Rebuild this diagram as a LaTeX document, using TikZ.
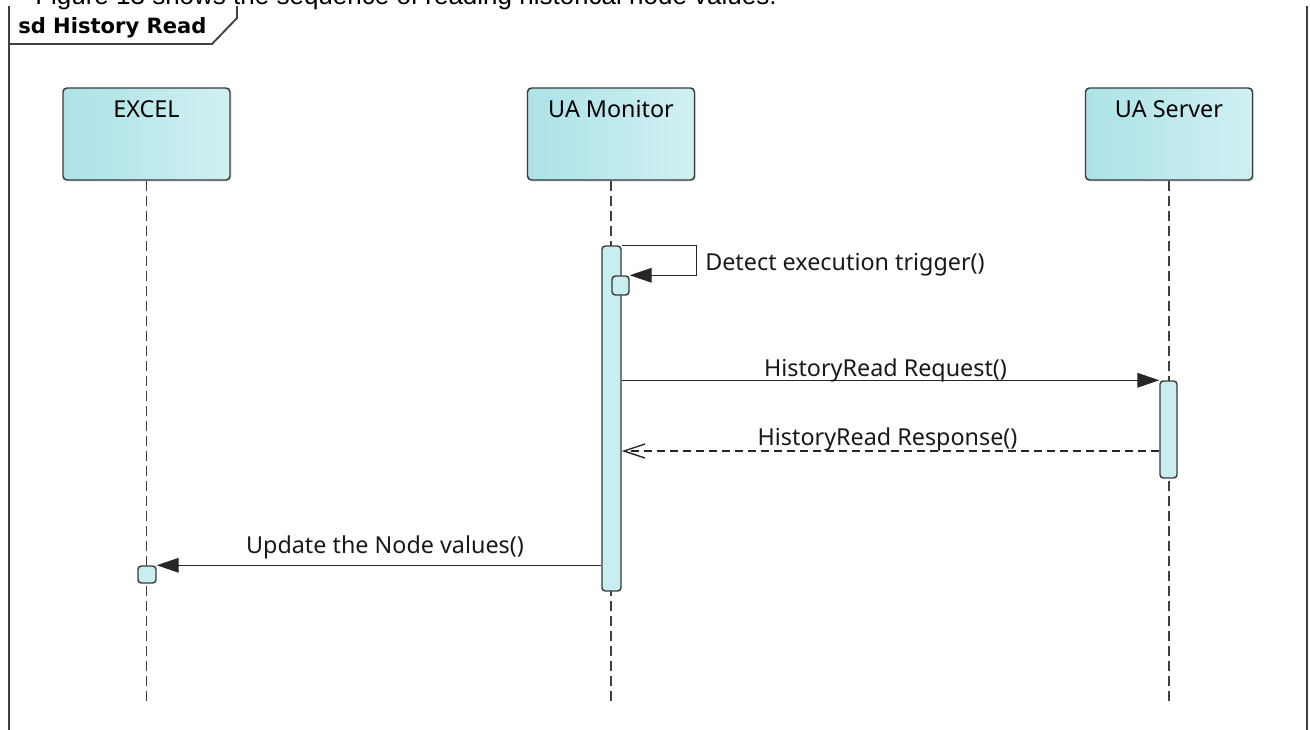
\documentclass[tikz,border=0pt]{standalone}
\usepackage{fontspec}
\setmainfont{Noto Sans}
\newfontfamily\capfont{Liberation Sans}
\newfontfamily\sdfont{DejaVu Sans}
\usetikzlibrary{arrows.meta,shadows}
\definecolor{headL}{HTML}{ACE2E7}
\definecolor{headR}{HTML}{D0F0F2}
\definecolor{actfill}{HTML}{C9EEF0}
\definecolor{edge}{HTML}{3A3A3A}
\definecolor{lifegray}{HTML}{404040}
\tikzset{
  lifehead/.style={
    shape = rectangle,
    rounded corners = 3pt,
    draw = edge,
    line width = 1.1pt,
    left color = headL,
    right color = headR,
    inner ysep = 0pt,
    minimum width = 125.25pt,
    text height = 21.75pt,
    text depth = 47.25pt,
    font = \fontsize{17.5pt}{21pt}\selectfont,
    drop shadow = {shadow xshift=1.3pt, shadow yshift=-1.3pt, opacity=0.25}
  },
}
\tikzset{
  activ/.style={
    shape = rectangle,
    rounded corners = 2.5pt,
    draw = edge,
    line width = 1.1pt,
    fill = actfill,
    inner sep = 0pt
  },
}
\tikzset{
  lifeline/.style={
    draw = lifegray,
    line width = 1.1pt,
    dash pattern = on 7.5pt off 3.75pt
  },
  frameline/.style={
    draw = lifegray,
    line width = 1.4pt
  },
  msg/.style={
    draw = black!85,
    line width = 1.05pt,
    -{Triangle[length=16.5pt, width=11pt]}
  },
  reply/.style={
    draw = black!85,
    line width = 1.05pt,
    dash pattern = on 6pt off 3.75pt,
    -{Straight Barb[length=15.75pt, width=10.5pt]}
  },
  msgtext/.style={
    anchor = base,
    inner sep = 0pt,
    text = black!90,
    font = \fontsize{17.5pt}{21pt}\selectfont
  },
  framelabel/.style={
    anchor = base west,
    inner sep = 0pt,
    font = \sdfont\bfseries\fontsize{15.8pt}{19pt}\selectfont
  },
  capline/.style={
    anchor = base west,
    inner sep = 0pt,
    font = \fontsize{19.5pt}{23pt}\selectfont\capfont
  }
}

\begin{document}
\begin{tikzpicture}[x=0.75pt, y=-0.75pt]
    \def\px{0.75pt}
    \def\ybot{702}
    \useasboundingbox (0,0) rectangle (1310,729);
    \clip (0,0) rectangle (1310,729);
    % frame
    \draw[frameline] (9,740) -- (9,6);
    \draw[frameline] (1307,6) -- (1307,740);
    \draw[frameline] (9,44) -- (212,44) -- (237,18) -- (237,6);
    \node[capline] (caption) at (35,4.5) {Figure 13 shows the sequence of reading historical node values.};
    \node[framelabel] (sdname) at (18,33) {sd History Read};
    % lifelines
    \foreach \name/\x/\txt in {excel/146.5/EXCEL, monitor/611/UA Monitor, server/1169/UA Server}{
    \node[lifehead] (\name) at (\x,134) {\txt};
    \draw[lifeline] (\name.south) -- (\name.south |- 0,\ybot);}
    % activations
    \node[activ, minimum width=19*\px, minimum height=345*\px] (act-monitor) at (611.5,418.5) {};
    \node[activ, minimum width=17*\px, minimum height=19*\px] (act-self) at (620.5,285.5) {};
    \node[activ, minimum width=17*\px, minimum height=97*\px] (act-server) at (1168.5,429.5) {};
    \node[activ, minimum width=18*\px, minimum height=17*\px] (act-excel) at (147,574.5) {};
    % messages
    \coordinate (resp) at (0,451);
    \draw[msg] (act-monitor.north east) -- ++(75,0) |- (act-self.north east);
    \draw[msg] (act-monitor.east |- act-server.north) -- (act-server.north west);
    \draw[reply] (act-server.west |- resp) -- (act-monitor.east |- resp);
    \draw[msg] (act-monitor.west |- act-excel.north) -- (act-excel.north east);
    \node[msgtext, anchor=base west] (m-trigger) at (705,270) {Detect execution trigger()};
    \node[msgtext] (m-request) at (885.5,376) {HistoryRead Request()};
    \node[msgtext] (m-response) at (887.5,445) {HistoryRead Response()};
    \node[msgtext] (m-update) at (385,553) {Update the Node values()};
\end{tikzpicture}
\end{document}
